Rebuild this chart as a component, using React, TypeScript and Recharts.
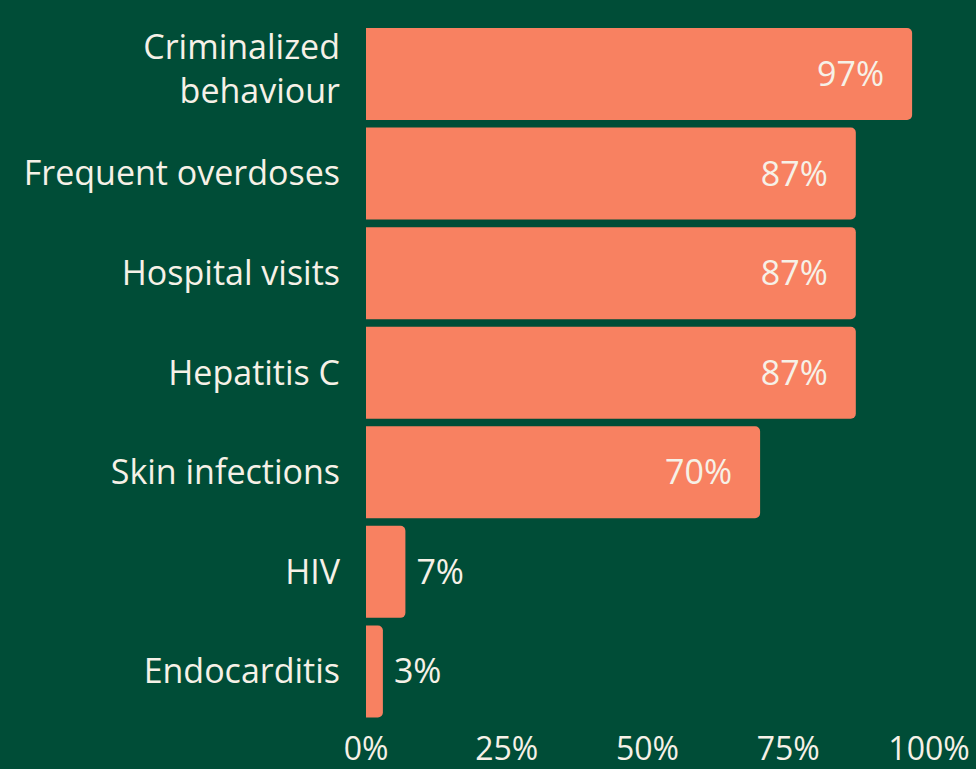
import React from 'react';
import { BarChart, Bar, XAxis, YAxis, LabelList } from 'recharts';

const categories = [
  'Criminalized behaviour',
  'Frequent overdoses',
  'Hospital visits',
  'Hepatitis C',
  'Skin infections',
  'HIV',
  'Endocarditis',
];
const values = [97, 87, 87, 87, 70, 7, 3];
const xTicks = [0, 25, 50, 75, 100];

const BG = '#004d37';
const BAR = '#f88161';
const TEXT = '#f6f1e7';
const FONT = '"Open Sans", sans-serif';
const FS = 34;

const data = categories.map((name, i) => ({ name, value: values[i] }));

// category labels, wrapped by hand for the long one
const CategoryTick = (props: any) => {
  const { y, payload } = props;
  const label: string = payload.value;
  const lines = label === 'Criminalized behaviour' ? ['Criminalized', 'behaviour'] : [label];
  const first = lines.length === 1 ? 12 : -15;
  return (
    <text x={340} y={y} textAnchor="end" fill={TEXT} fontSize={FS} fontFamily={FONT}>
      {lines.map((l, i) => (
        <tspan key={i} x={340} dy={i === 0 ? first : 44}>{l}</tspan>
      ))}
    </text>
  );
};

const PercentTick = (props: any) => {
  const { x, y, payload } = props;
  return (
    <text x={x} y={y + 31} textAnchor="middle" fill={TEXT} fontSize={32} fontFamily={FONT}>
      {payload.value}%
    </text>
  );
};

// big bars get the label inside, small ones just outside
const ValueLabel = (props: any) => {
  const { x, y, width, height, value } = props;
  const inside = value >= 50;
  return (
    <text
      x={inside ? x + width - 28 : x + width + 11}
      y={y + height / 2 + 12}
      textAnchor={inside ? 'end' : 'start'}
      fill={TEXT}
      fontSize={FS}
      fontFamily={FONT}
    >
      {value}%
    </text>
  );
};

export default function App() {
  return (
    <div style={{ position: 'fixed', left: 0, top: 0, width: 976, height: 769, background: BG }}>
      <BarChart
        width={976}
        height={769}
        data={data}
        layout="vertical"
        margin={{ top: 24, right: 47, bottom: 0, left: 0 }}
        barCategoryGap={4}
      >
        <XAxis
          type="number"
          domain={[0, 100]}
          ticks={xTicks}
          height={48}
          axisLine={false}
          tickLine={false}
          tick={<PercentTick />}
          interval={0}
        />
        <YAxis
          type="category"
          dataKey="name"
          width={366}
          axisLine={false}
          tickLine={false}
          tick={<CategoryTick />}
          interval={0}
        />
        <Bar dataKey="value" fill={BAR} radius={[0, 5, 5, 0]} isAnimationActive={false}>
          <LabelList dataKey="value" content={<ValueLabel />} />
        </Bar>
      </BarChart>
    </div>
  );
}
